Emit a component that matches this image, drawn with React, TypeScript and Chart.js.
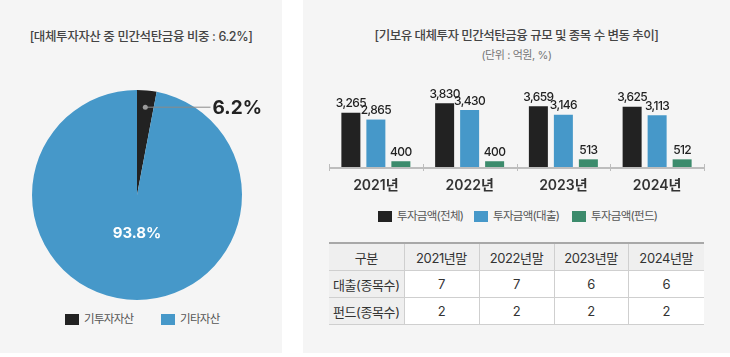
import React, { useEffect, useRef } from "react";
import { Chart, registerables } from "chart.js";

Chart.register(...registerables);

// ---------- data ----------
const pieLabels = ["기투자자산", "기타자산"];
const pieValues = [3.0, 97.0]; // slice sizes as drawn in the picture
const pieTexts = ["6.2%", "93.8%"];

const years = ["2021년", "2022년", "2023년", "2024년"];
const seriesNames = ["투자금액(전체)", "투자금액(대출)", "투자금액(펀드)"];
const totalAmt = [3265, 3830, 3659, 3625];
const loanAmt = [2865, 3430, 3146, 3113];
const fundAmt = [400, 400, 513, 512];

const tableHead = ["구분", "2021년말", "2022년말", "2023년말", "2024년말"];
const loanCount = [7, 7, 6, 6];
const fundCount = [2, 2, 2, 2];
const rowNames = ["대출(종목수)", "펀드(종목수)"];

const pieColors = ["#222222", "#4698c9"];
const barColors = ["#222222", "#4698c9", "#3c8b6c"];

const FONT = 'Inter, "Noto Sans CJK KR", sans-serif';

const piePlugin = {
  id: "pieLabels",
  afterDatasetsDraw(chart: any) {
    const ctx = chart.ctx;
    const meta = chart.getDatasetMeta(0);
    const small = meta.data[0];
    const p = small.getProps(["x", "y", "outerRadius", "startAngle", "endAngle"], true);
    const mid = (p.startAngle + p.endAngle) / 2;
    const r = p.outerRadius;
    const dx = p.x + Math.cos(mid) * r * 0.84;
    const dy = p.y + Math.sin(mid) * r * 0.84;
    ctx.save();
    ctx.strokeStyle = "#8a8a8a";
    ctx.lineWidth = 1;
    ctx.beginPath();
    ctx.moveTo(dx, dy);
    ctx.lineTo(p.x + r * 0.7, dy);
    ctx.stroke();
    ctx.fillStyle = "#9a9a9a";
    ctx.beginPath();
    ctx.arc(dx, dy, 2.5, 0, Math.PI * 2);
    ctx.fill();
    ctx.fillStyle = "#222";
    ctx.font = `700 19px ${FONT}`;
    ctx.textAlign = "left";
    ctx.textBaseline = "middle";
    ctx.fillText(pieTexts[0], p.x + r * 0.72, dy + 1);
    ctx.fillStyle = "#ffffff";
    ctx.font = `700 15px ${FONT}`;
    ctx.textAlign = "center";
    ctx.fillText(pieTexts[1], p.x, p.y + r * 0.37);
    ctx.restore();
  },
};

const barPlugin = {
  id: "barLabels",
  afterDatasetsDraw(chart: any) {
    const ctx = chart.ctx;
    const area = chart.chartArea;
    const xs = chart.scales.x;
    ctx.save();
    ctx.strokeStyle = "#bdbdbd";
    ctx.lineWidth = 2;
    ctx.beginPath();
    ctx.moveTo(area.left, area.bottom);
    ctx.lineTo(area.right, area.bottom);
    ctx.stroke();
    ctx.lineWidth = 1;
    const n = chart.data.labels.length;
    const step = (area.right - area.left) / n;
    for (let i = 0; i <= n; i++) {
      const bx = Math.round(xs.getPixelForValue(0) - step / 2 + i * step) + 0.5;
      ctx.beginPath();
      ctx.moveTo(bx, area.bottom - 4);
      ctx.lineTo(bx, area.bottom + 3);
      ctx.stroke();
    }
    ctx.fillStyle = "#222";
    ctx.font = `500 12px ${FONT}`;
    ctx.textAlign = "center";
    ctx.textBaseline = "bottom";
    (ctx as any).letterSpacing = "-0.6px";
    chart.data.datasets.forEach((ds: any, di: number) => {
      const meta = chart.getDatasetMeta(di);
      meta.data.forEach((bar: any, i: number) => {
        const v = ds.data[i];
        ctx.fillText(v.toLocaleString("en-US"), bar.x, bar.y - 3);
      });
    });
    ctx.restore();
  },
};

function PieChart() {
  const ref = useRef<HTMLCanvasElement>(null);
  useEffect(() => {
    const chart = new Chart(ref.current!, {
      type: "pie",
      data: {
        labels: pieLabels,
        datasets: [{ data: pieValues, backgroundColor: pieColors, borderWidth: 0 }],
      },
      options: {
        animation: false,
        responsive: false,
        maintainAspectRatio: false,
        layout: { padding: { left: 32, right: 40, top: 10, bottom: 10 } },
        plugins: { legend: { display: false }, tooltip: { enabled: false } },
      },
      plugins: [piePlugin],
    });
    return () => chart.destroy();
  }, []);
  return (
    <canvas
      ref={ref}
      width={282}
      height={230}
      style={{ position: "absolute", left: 0, top: 80, width: 282, height: 230 }}
    />
  );
}

function BarChart() {
  const ref = useRef<HTMLCanvasElement>(null);
  useEffect(() => {
    const seriesData = [totalAmt, loanAmt, fundAmt];
    const chart = new Chart(ref.current!, {
      type: "bar",
      data: {
        labels: years,
        datasets: seriesNames.map((name, i) => ({
          label: name,
          data: seriesData[i],
          backgroundColor: barColors[i],
          barPercentage: 0.76,
          categoryPercentage: 0.8,
        })),
      },
      options: {
        animation: false,
        responsive: false,
        maintainAspectRatio: false,
        layout: { padding: { left: 26, right: 26, top: 14, bottom: 2 } },
        plugins: { legend: { display: false }, tooltip: { enabled: false } },
        scales: {
          x: {
            grid: { display: false, drawTicks: false },
            border: { display: false },
            afterFit: (s: any) => {
              s.height = 27;
            },
            ticks: {
              padding: 9,
              color: "#333",
              font: { family: FONT, size: 14, weight: "600" as any },
            },
          },
          y: { display: false, min: 0, max: 4850 },
        },
      },
      plugins: [barPlugin],
    });
    return () => chart.destroy();
  }, []);
  return (
    <canvas
      ref={ref}
      width={427}
      height={125}
      style={{ position: "absolute", left: 0, top: 72, width: 427, height: 125 }}
    />
  );
}

function LegendItem({ color, text, left, top }: { color: string; text: string; left: number; top: number }) {
  return (
    <div style={{ position: "absolute", left, top, height: 14, display: "flex", alignItems: "center", whiteSpace: "nowrap" }}>
      <span style={{ display: "inline-block", width: 14, height: 11, background: color, marginRight: 5 }} />
      <span style={{ fontSize: 11.5, color: "#555", letterSpacing: "-0.7px", lineHeight: "14px" }}>{text}</span>
    </div>
  );
}

const cellBase: React.CSSProperties = {
  border: "1px solid #cfcfcf",
  height: 26,
  padding: 0,
  textAlign: "center",
  fontSize: 13,
  color: "#333",
  letterSpacing: "-0.4px",
};

export default function App() {
  return (
    <div
      style={{
        position: "absolute",
        left: 0,
        top: 0,
        width: 730,
        height: 357,
        background: "#ffffff",
        fontFamily: FONT,
        overflow: "hidden",
      }}
    >
      <div style={{ position: "absolute", left: 0, top: 0, width: 282, height: 353, background: "#f5f5f5" }}>
        <div
          style={{
            position: "absolute",
            left: 0,
            top: 29,
            width: 282,
            textAlign: "center",
            fontSize: 12.5,
            fontWeight: 500,
            color: "#444",
            letterSpacing: "-0.4px",
            lineHeight: "16px",
            paddingRight: 1,
          }}
        >
          [대체투자자산 중 민간석탄금융 비중 : 6.2%]
        </div>
        <PieChart />
        <LegendItem color={pieColors[0]} text={pieLabels[0]} left={65} top={312} />
        <LegendItem color={pieColors[1]} text={pieLabels[1]} left={161} top={312} />
      </div>
      <div style={{ position: "absolute", left: 303, top: 0, width: 427, height: 353, background: "#f5f5f5" }}>
        <div
          style={{
            position: "absolute",
            left: 0,
            top: 28,
            width: 427,
            textAlign: "center",
            fontSize: 12.5,
            fontWeight: 500,
            color: "#444",
            letterSpacing: "-0.5px",
            lineHeight: "16px",
          }}
        >
          [기보유 대체투자 민간석탄금융 규모 및 종목 수 변동 추이]
        </div>
        <div
          style={{
            position: "absolute",
            left: 0,
            top: 48,
            width: 427,
            textAlign: "center",
            fontSize: 11,
            color: "#777",
            letterSpacing: "-0.4px",
            lineHeight: "14px",
          }}
        >
          (단위 : 억원, %)
        </div>
        <BarChart />
        <LegendItem color={barColors[0]} text={seriesNames[0]} left={75} top={209} />
        <LegendItem color={barColors[1]} text={seriesNames[1]} left={171} top={209} />
        <LegendItem color={barColors[2]} text={seriesNames[2]} left={269} top={209} />
        <table
          style={{
            position: "absolute",
            left: 26,
            top: 242,
            width: 375,
            borderCollapse: "collapse",
            tableLayout: "fixed",
          }}
        >
          <colgroup>
            <col style={{ width: 75 }} />
            <col style={{ width: 75 }} />
            <col style={{ width: 75 }} />
            <col style={{ width: 74 }} />
            <col style={{ width: 76 }} />
          </colgroup>
          <tbody>
            <tr style={{ background: "#efefef" }}>
              {tableHead.map((h, i) => (
                <td
                  key={i}
                  style={{
                    ...cellBase,
                    borderTop: "2px solid #a8a8a8",
                    borderLeft: i === 0 ? "none" : (cellBase.border as string),
                    borderRight: i === 4 ? "none" : (cellBase.border as string),
                  }}
                >
                  {h}
                </td>
              ))}
            </tr>
            {[loanCount, fundCount].map((row, ri) => (
              <tr key={ri}>
                <td style={{ ...cellBase, background: "#efefef", borderLeft: "none" }}>{rowNames[ri]}</td>
                {row.map((v, ci) => (
                  <td
                    key={ci}
                    style={{ ...cellBase, background: "#ffffff", borderRight: ci === 3 ? "none" : (cellBase.border as string) }}
                  >
                    {v}
                  </td>
                ))}
              </tr>
            ))}
          </tbody>
        </table>
      </div>
    </div>
  );
}
